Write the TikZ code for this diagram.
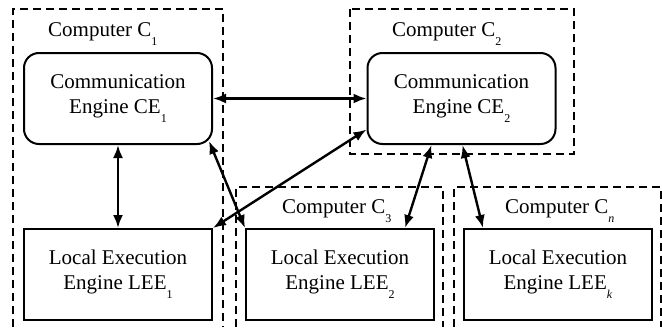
\documentclass[tikz,border=0pt]{standalone}
\usepackage{fontspec}
\setmainfont{Liberation Serif}
\usetikzlibrary{arrows.meta}
\newcommand{\lowidx}[1]{\raisebox{-9pt}{\fontsize{12}{12}\selectfont #1}}
\tikzstyle{engine}=[draw,line width=2pt,minimum width=188pt,minimum height=91pt,inner sep=0pt,align=center]
\tikzstyle{comm}=[engine,rounded corners=15pt]
\tikzstyle{dashbox}=[line width=1.8pt,dash pattern=on 8pt off 5pt]
\tikzstyle{myarrow}=[line width=2.4pt,>={Latex[length=13pt,width=10pt]},<->]
\begin{document}
\begin{tikzpicture}[x=1pt,y=-1pt,font=\fontsize{21}{25}\selectfont]
		\useasboundingbox (0,0) rectangle (662,327);
		% computers
		\draw[dashbox] (13,327) |- (223,9) -- (223,327);
		\draw[dashbox] (350,9) rectangle (574,154);
		\draw[dashbox] (236,327) |- (443,187) -- (443,327);
		\draw[dashbox] (454,327) |- (661,187) -- (661,327);
		\node[anchor=base west,inner sep=0pt] (c1) at (48,36) {Computer C\lowidx{1}};
		\node[anchor=base west,inner sep=0pt] (c2) at (392,36) {Computer C\lowidx{2}};
		\node[anchor=base west,inner sep=0pt] (c3) at (282,213) {Computer C\lowidx{3}};
		\node[anchor=base west,inner sep=0pt] (cn) at (505,213) {Computer C\lowidx{\textit{n}}};

		% engines
		\node[comm] (ce1) at (118,98.5) {Communication\\Engine CE\lowidx{1}};
		\node[comm] (ce2) at (461.5,98.5) {Communication\\Engine CE\lowidx{2}};
		\node[engine] (lee1) at (118,274.5) {Local Execution\\Engine LEE\lowidx{1}};
		\node[engine] (lee2) at (340,274.5) {Local Execution\\Engine LEE\lowidx{2}};
		\node[engine] (leek) at (558,274.5) {Local Execution\\Engine LEE\lowidx{\textit{k}}};

		\draw[myarrow] (ce1.east) -- (ce2.west);
		\draw[myarrow] (ce1.south) -- (lee1.north);
		\draw[myarrow] ([xshift=-4pt,yshift=4pt]ce1.south east) -- (lee2.north west);
		\draw[myarrow] ([yshift=-31pt]ce2.west) -- (lee1.north east);
		\draw[myarrow] ([xshift=-30pt]ce2.south) -- ([xshift=65pt]lee2.north);
		\draw[myarrow] ([xshift=1pt]ce2.south) -- ([xshift=-75pt]leek.north);
	\end{tikzpicture}
\end{document}
